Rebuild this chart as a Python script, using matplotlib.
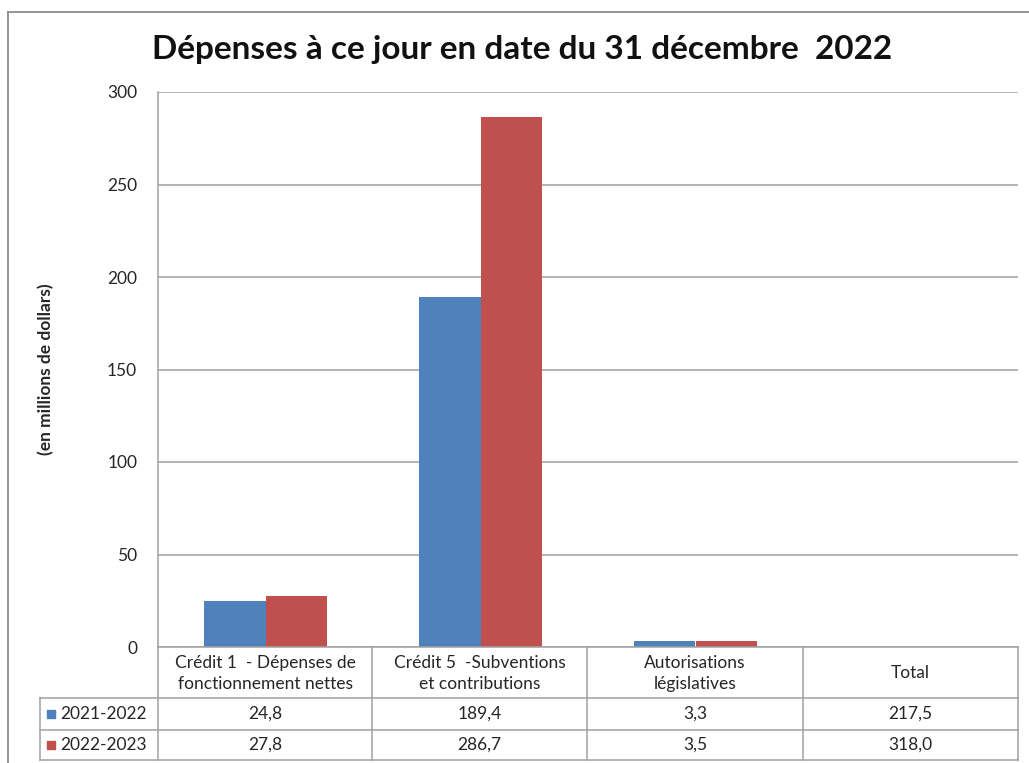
import matplotlib.pyplot as plt
from matplotlib.lines import Line2D
from matplotlib.patches import Rectangle
import numpy as np

# data
categories = ["Crédit 1  - Dépenses de\nfonctionnement nettes",
              "Crédit 5  -Subventions\net contributions",
              "Autorisations\nlégislatives",
              "Total"]
series = ["2021-2022", "2022-2023"]
vals_2122 = [24.8, 189.4, 3.3, 217.5]
vals_2223 = [27.8, 286.7, 3.5, 318.0]
labels_2122 = ["24,8", "189,4", "3,3", "217,5"]
labels_2223 = ["27,8", "286,7", "3,5", "318,0"]
colors = ["#4F81BD", "#C0504D"]

W, H = 1029, 763
plt.rcParams['font.family'] = ['Lato', 'DejaVu Sans']
txt = "#262626"
grid = "#a0a0a0"

fig = plt.figure(figsize=(W / 100, H / 100), dpi=100)


def fx(x):
    return x / W


def fy(y):
    return 1 - y / H


def hline(x0, x1, y, c=grid, lw=1.1):
    fig.add_artist(Line2D([fx(x0), fx(x1)], [fy(y), fy(y)], color=c, lw=lw))


def vline(x, y0, y1, c=grid, lw=1.1):
    fig.add_artist(Line2D([fx(x), fx(x)], [fy(y0), fy(y1)], color=c, lw=lw))


# outer frame
hline(8, W, 12, c="#8c8c8c", lw=1.3)
vline(8, 12, H, c="#8c8c8c", lw=1.3)

left, right, top, bottom = 158, 1018, 92, 647
ax = fig.add_axes([fx(left), fy(bottom), fx(right - left), (bottom - top) / H])

# only the three credits are drawn as bars (Total stays in the table)
n = 3
x = np.arange(n)
bw = 0.285
ax.bar(x - bw / 2, vals_2122[:n], bw, color=colors[0], zorder=3)
ax.bar(x + bw / 2, vals_2223[:n], bw, color=colors[1], zorder=3)

ax.set_xlim(-0.5, 3.5)
ax.set_ylim(0, 300)
ax.set_yticks(range(0, 301, 50))
ax.yaxis.grid(True, color=grid, lw=1.1)
ax.set_axisbelow(True)
ax.set_xticks([])
ax.tick_params(axis="y", length=0, pad=15, labelsize=12.5, labelcolor=txt)
for s in ["top", "right", "bottom"]:
    ax.spines[s].set_visible(False)
ax.spines["left"].set_color(grid)
ax.spines["left"].set_linewidth(1.1)

fig.text(fx(522), fy(49), "Dépenses à ce jour en date du 31 décembre  2022",
         ha="center", va="center", fontsize=24, fontweight="bold", color="#111111")
fig.text(fx(46), fy(369), "(en millions de dollars)", rotation=90,
         ha="center", va="center", fontsize=12.5, fontweight="bold", color=txt)

# data table
cols = [158, 372, 587, 803, 1018]
rows = [647, 698, 730, 760]
hline(158, 1018, rows[0])
hline(40, 1018, rows[1])
hline(40, 1018, rows[2])
hline(40, 1018, rows[3])
for c in cols:
    vline(c, rows[0], rows[3])
vline(40, rows[1], rows[3])

for i, cat in enumerate(categories):
    cx = (cols[i] + cols[i + 1]) / 2
    fig.text(fx(cx), fy((rows[0] + rows[1]) / 2 + 1), cat, ha="center", va="center",
             fontsize=12.5, linespacing=1.4, color=txt)
    fig.text(fx(cx), fy((rows[1] + rows[2]) / 2), labels_2122[i], ha="center",
             va="center", fontsize=12.5, color=txt)
    fig.text(fx(cx), fy((rows[2] + rows[3]) / 2), labels_2223[i], ha="center",
             va="center", fontsize=12.5, color=txt)

for j, name in enumerate(series):
    yc = (rows[1 + j] + rows[2 + j]) / 2
    fig.add_artist(Rectangle((fx(47), fy(yc + 4)), fx(8), 8 / H, color=colors[j]))
    fig.text(fx(60), fy(yc), name, ha="left", va="center", fontsize=12.5, color=txt)

fig.savefig("out.png", dpi=100)
